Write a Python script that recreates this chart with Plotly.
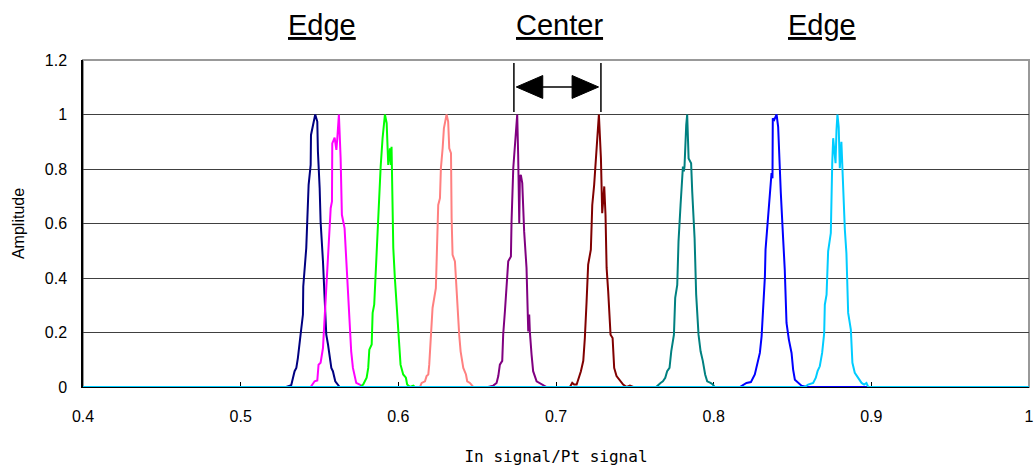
import plotly.graph_objects as go

# ---- data ----
navy_x = [0.4, 0.5289, 0.5321, 0.5342, 0.5353, 0.5363, 0.5380, 0.5395, 0.5397, 0.5416, 0.5431, 0.5444, 0.5446,
          0.5458, 0.5473, 0.5486, 0.5490, 0.5501, 0.5507, 0.5522, 0.5533, 0.5543, 0.5554, 0.5564, 0.5575,
          0.5585, 0.5600, 0.5628, 1.0]
navy_y = [0, 0, 0.007, 0.058, 0.070, 0.107, 0.192, 0.266, 0.369, 0.510, 0.742, 0.815, 0.925,
          0.962, 1.0, 0.974, 0.864, 0.730, 0.607, 0.461, 0.327, 0.192, 0.156, 0.119, 0.070,
          0.058, 0.021, 0, 0]

magenta_x = [0.4, 0.5444, 0.5469, 0.5486, 0.5494, 0.5507, 0.5522, 0.5533, 0.5549, 0.5564, 0.5571, 0.5579, 0.5581,
             0.5596, 0.5607, 0.5613, 0.5623, 0.5634, 0.5642, 0.5659, 0.5670, 0.5680, 0.5691, 0.5701, 0.5712,
             0.5723, 0.5733, 0.5755, 0.5776, 1.0]
magenta_y = [0, 0, 0.021, 0.024, 0.082, 0.089, 0.143, 0.253, 0.461, 0.583, 0.656, 0.681, 0.894,
             0.915, 0.870, 0.913, 1.0, 0.839, 0.632, 0.583, 0.461, 0.327, 0.192, 0.131, 0.070,
             0.034, 0.015, 0.009, 0, 0]

green_x = [0.4, 0.5756, 0.5777, 0.5799, 0.5809, 0.5816, 0.5831, 0.5837, 0.5847, 0.5862, 0.5873, 0.5888, 0.5900,
           0.5915, 0.5926, 0.5936, 0.5947, 0.5953, 0.5957, 0.5961, 0.5968, 0.5978, 0.5993, 0.6006, 0.6014,
           0.6031, 0.6048, 0.6056, 0.6074, 0.6095, 0.6105, 1.0]
green_y = [0, 0, 0.009, 0.034, 0.070, 0.137, 0.156, 0.272, 0.302, 0.510, 0.607, 0.809, 0.913,
           1.0, 0.968, 0.815, 0.876, 0.815, 0.882, 0.668, 0.510, 0.400, 0.278, 0.180, 0.082,
           0.046, 0.034, 0.009, 0, 0.005, 0, 0]

salmon_x = [0.4, 0.6137, 0.6148, 0.6169, 0.6179, 0.6190, 0.6196, 0.6205, 0.6217, 0.6238, 0.6243, 0.6253, 0.6264,
            0.6270, 0.6281, 0.6289, 0.6306, 0.6316, 0.6323, 0.6334, 0.6338, 0.6344, 0.6359, 0.6370, 0.6380,
            0.6386, 0.6395, 0.6412, 0.6429, 0.6437, 0.6454, 0.6475, 1.0]
salmon_y = [0, 0, 0.015, 0.021, 0.040, 0.046, 0.082, 0.192, 0.290, 0.363, 0.510, 0.668, 0.693,
            0.803, 0.876, 0.949, 1.0, 0.974, 0.876, 0.858, 0.620, 0.485, 0.461, 0.339, 0.266,
            0.192, 0.131, 0.070, 0.046, 0.021, 0.015, 0, 0]

purple_x = [0.4, 0.6570, 0.6602, 0.6623, 0.6634, 0.6644, 0.6659, 0.6665, 0.6676, 0.6687, 0.6697, 0.6714, 0.6718,
            0.6729, 0.6739, 0.6754, 0.6760, 0.6767, 0.6771, 0.6777, 0.6786, 0.6798, 0.6813, 0.6820, 0.6824,
            0.6830, 0.6834, 0.6845, 0.6855, 0.6877, 0.6898, 0.6919, 0.6940, 1.0]
purple_y = [0, 0, 0.005, 0.015, 0.040, 0.082, 0.096, 0.192, 0.278, 0.400, 0.461, 0.479, 0.607,
            0.803, 0.888, 1.0, 0.852, 0.601, 0.772, 0.778, 0.748, 0.571, 0.437, 0.266, 0.204,
            0.266, 0.204, 0.119, 0.058, 0.021, 0.015, 0.009, 0, 0]

darkred_x = [0.4, 0.7088, 0.7103, 0.7115, 0.7131, 0.7145, 0.7158, 0.7173, 0.7183, 0.7194, 0.7204, 0.7221, 0.7230,
             0.7242, 0.7257, 0.7272, 0.7285, 0.7293, 0.7299, 0.7306, 0.7314, 0.7321, 0.7331, 0.7346, 0.7359,
             0.7369, 0.7384, 0.7401, 0.7412, 0.7426, 0.7448, 0.7469, 0.7490, 1.0]
darkred_y = [0, 0, 0.015, 0.009, 0.009, 0.034, 0.058, 0.096, 0.180, 0.314, 0.449, 0.504, 0.668,
             0.742, 0.876, 1.0, 0.839, 0.638, 0.681, 0.736, 0.632, 0.437, 0.351, 0.192, 0.180,
             0.070, 0.040, 0.027, 0.021, 0.009, 0, 0.005, 0, 0]

teal_x = [0.4, 0.7635, 0.7663, 0.7678, 0.7693, 0.7705, 0.7720, 0.7731, 0.7748, 0.7756, 0.7769, 0.7777, 0.7790,
          0.7798, 0.7805, 0.7811, 0.7815, 0.7826, 0.7832, 0.7841, 0.7857, 0.7864, 0.7879, 0.7889, 0.7904,
          0.7917, 0.7931, 0.7946, 0.7959, 0.7980, 0.7995, 0.8006, 1.0]
teal_y = [0, 0, 0.015, 0.021, 0.034, 0.058, 0.070, 0.131, 0.192, 0.327, 0.375, 0.534, 0.668,
          0.754, 0.809, 0.791, 0.809, 0.962, 1.0, 0.839, 0.821, 0.717, 0.546, 0.339, 0.192,
          0.131, 0.096, 0.046, 0.021, 0.015, 0.009, 0, 0]

blue_x = [0.4, 0.8166, 0.8208, 0.8236, 0.8261, 0.8278, 0.8293, 0.8304, 0.8314, 0.8325, 0.8329, 0.8339, 0.8346,
          0.8361, 0.8367, 0.8373, 0.8375, 0.8384, 0.8393, 0.8399, 0.8409, 0.8415, 0.8426, 0.8441, 0.8451,
          0.8462, 0.8477, 0.8494, 0.8504, 0.8515, 0.8536, 0.8557, 0.8589, 1.0]
blue_y = [0, 0, 0.015, 0.018, 0.046, 0.089, 0.125, 0.186, 0.284, 0.406, 0.504, 0.583, 0.650,
          0.748, 0.785, 0.766, 0.986, 0.980, 0.992, 1.0, 0.955, 0.858, 0.711, 0.540, 0.430,
          0.235, 0.174, 0.125, 0.064, 0.027, 0.015, 0.005, 0, 0]

cyan_x = [0.4, 0.8578, 0.8599, 0.8631, 0.8648, 0.8659, 0.8673, 0.8688, 0.8701, 0.8705, 0.8716, 0.8722, 0.8726,
          0.8743, 0.8745, 0.8752, 0.8758, 0.8764, 0.8773, 0.8779, 0.8785, 0.8793, 0.8800, 0.8810, 0.8821,
          0.8832, 0.8842, 0.8853, 0.8870, 0.8880, 0.8895, 0.8916, 0.8938, 0.8954, 0.8969, 0.8980, 1.0]
cyan_y = [0, 0, 0.009, 0.015, 0.034, 0.058, 0.076, 0.125, 0.198, 0.302, 0.339, 0.406, 0.498,
          0.565, 0.650, 0.821, 0.913, 0.870, 0.821, 0.943, 1.0, 0.955, 0.803, 0.900, 0.699,
          0.577, 0.491, 0.272, 0.211, 0.089, 0.052, 0.034, 0.015, 0.009, 0.015, 0, 0]

series = [
    (navy_x, navy_y, "#000080"),
    (magenta_x, magenta_y, "#FF00FF"),
    (green_x, green_y, "#00FF00"),
    (salmon_x, salmon_y, "#FF8080"),
    (purple_x, purple_y, "#800080"),
    (darkred_x, darkred_y, "#800000"),
    (teal_x, teal_y, "#008080"),
    (blue_x, blue_y, "#0000FF"),
    (cyan_x, cyan_y, "#00CCFF"),
]

x_ticks = [0.4, 0.5, 0.6, 0.7, 0.8, 0.9, 1.0]
x_tick_text = ["0.4", "0.5", "0.6", "0.7", "0.8", "0.9", "1"]
y_ticks = [0, 0.2, 0.4, 0.6, 0.8, 1.0, 1.2]
y_tick_text = ["0", "0.2", "0.4", "0.6", "0.8", "1", "1.2"]

region_labels = ["Edge", "Center", "Edge"]
region_x = [0.5516, 0.7025, 0.8686]

# center arrow (data coordinates)
arrow_left, arrow_right = 0.6733, 0.7285
arrow_y0, arrow_y1, arrow_mid = 1.009, 1.189, 1.101
head_len, head_half = 0.0168, 0.042

fig = go.Figure()
for xs, ys, col in series:
    fig.add_trace(go.Scatter(x=xs, y=ys, mode="lines",
                             line=dict(color=col, width=2), showlegend=False,
                             hoverinfo="skip", cliponaxis=False))

shapes = [
    dict(type="rect", xref="x domain", yref="y domain", x0=0, x1=1, y0=0, y1=1,
         line=dict(color="#999999", width=2), layer="below"),
]
for xv in (arrow_left, arrow_right):
    shapes.append(dict(type="line", xref="x", yref="y", x0=xv, x1=xv, y0=arrow_y0, y1=arrow_y1,
                       line=dict(color="black", width=1.5)))
shapes.append(dict(type="line", xref="x", yref="y", x0=arrow_left + head_len, x1=arrow_right - head_len,
                   y0=arrow_mid, y1=arrow_mid, line=dict(color="black", width=1.5)))
lt = arrow_left + 0.0015
rt = arrow_right - 0.0015
shapes.append(dict(type="path", xref="x", yref="y",
                   path=f"M {lt} {arrow_mid} L {lt + head_len} {arrow_mid + head_half} L {lt + head_len} {arrow_mid - head_half} Z",
                   fillcolor="black", line=dict(color="black", width=1)))
shapes.append(dict(type="path", xref="x", yref="y",
                   path=f"M {rt} {arrow_mid} L {rt - head_len} {arrow_mid + head_half} L {rt - head_len} {arrow_mid - head_half} Z",
                   fillcolor="black", line=dict(color="black", width=1)))

annotations = []
for lab, xv in zip(region_labels, region_x):
    annotations.append(dict(text=f"<u>{lab}</u>", x=xv, xref="x", y=1.107, yref="paper",
                            showarrow=False, xanchor="center", yanchor="middle",
                            font=dict(family="Liberation Sans, Arial", size=29, color="black")))

fig.update_layout(
    width=1034, height=473,
    margin=dict(l=83, r=5, t=60, b=86, autoexpand=False),
    paper_bgcolor="white", plot_bgcolor="white",
    shapes=shapes, annotations=annotations,
    font=dict(family="Liberation Sans, Arial", size=16, color="black"),
    xaxis=dict(range=[0.4, 1.0], tickvals=x_ticks, ticktext=x_tick_text,
               showgrid=False, zeroline=False, showline=True, linecolor="black", linewidth=1,
               ticks="inside", ticklen=5, tickcolor="black", layer="below traces",
               ticklabelstandoff=15, automargin=False,
               title=dict(text="In signal/Pt signal", standoff=26,
                          font=dict(family="DejaVu Sans Mono", size=16))),
    yaxis=dict(range=[0, 1.2], tickvals=y_ticks, ticktext=y_tick_text,
               showgrid=True, gridcolor="#404040", gridwidth=1, zeroline=False,
               showline=True, linecolor="black", linewidth=1.5, ticks="",
               ticklabelstandoff=11, automargin=False,
               title=dict(text="Amplitude", standoff=16, font=dict(size=16))),
)

fig.write_html("out.html", config={"displayModeBar": False},
               post_script="document.body.style.margin='0';document.body.style.overflow='hidden';")
